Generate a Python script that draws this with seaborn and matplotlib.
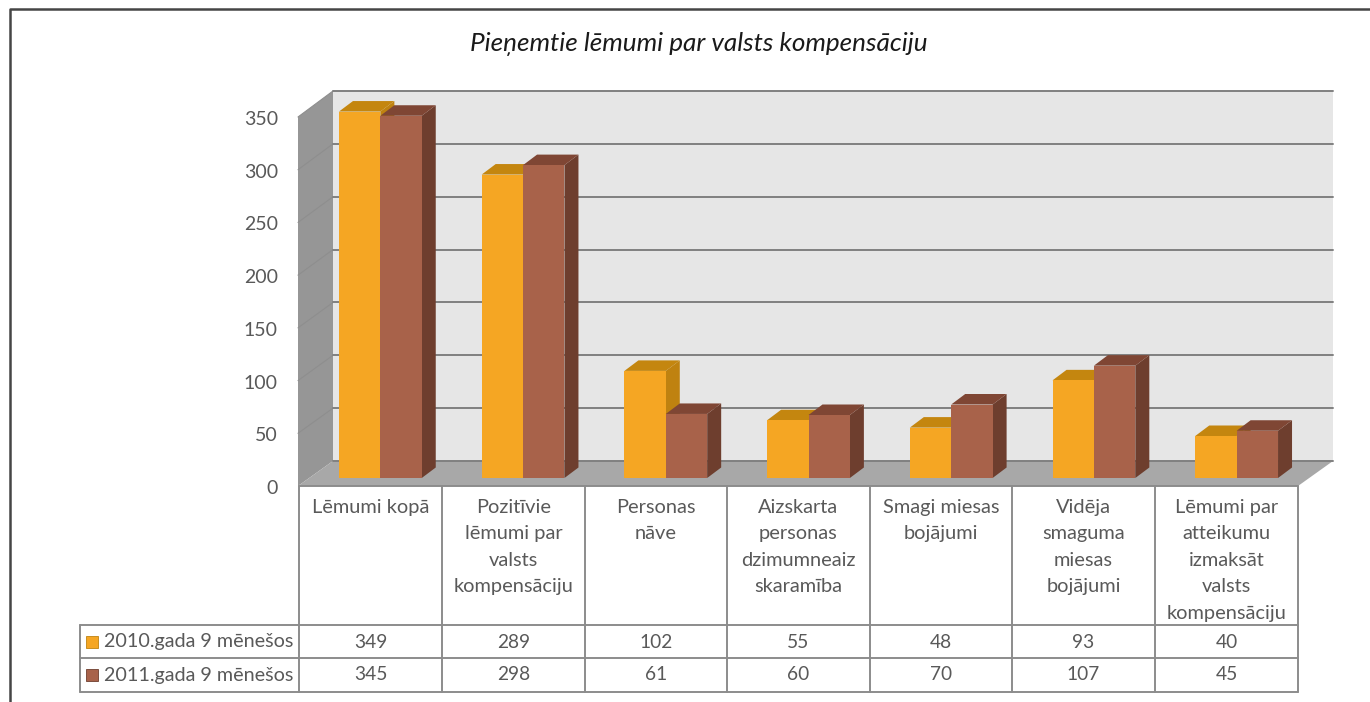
"""Lemumi par valsts kompensaciju - 3D look column chart with data table"""
import matplotlib
matplotlib.use("Agg")
import matplotlib.pyplot as plt
from matplotlib.patches import Polygon, Rectangle
import pandas as pd
import seaborn as sns

title = "Pieņemtie lēmumi par valsts kompensāciju"
categories = [
    "Lēmumi kopā",
    "Pozitīvie\nlēmumi par\nvalsts\nkompensāciju",
    "Personas\nnāve",
    "Aizskarta\npersonas\ndzimumneaiz\nskaramība",
    "Smagi miesas\nbojājumi",
    "Vidēja\nsmaguma\nmiesas\nbojājumi",
    "Lēmumi par\natteikumu\nizmaksāt\nvalsts\nkompensāciju",
]
series_names = ["2010.gada 9 mēnešos", "2011.gada 9 mēnešos"]
values_2010 = [349, 289, 102, 55, 48, 93, 40]
values_2011 = [345, 298, 61, 60, 70, 107, 45]
y_ticks = [0, 50, 100, 150, 200, 250, 300, 350]

W, H = 1370, 702
TXT = "#595959"
LINE = "#8c8c8c"
FRONT = ["#F5A623", "#A8624A"]
TOPS = ["#C4860F", "#7F4634"]
SIDES = ["#BF8210", "#6E3E2E"]

sns.set_theme(style="white")
plt.rcParams["font.family"] = ["Lato", "DejaVu Sans"]


def px_axes(fig, left, top, right, bottom, **kw):
    return fig.add_axes([left / W, 1 - bottom / H, (right - left) / W, (bottom - top) / H], **kw)


fig = plt.figure(figsize=(W / 100, H / 100), dpi=100, facecolor="white")

# pixel canvas for walls, floor, table
bg = px_axes(fig, 0, 0, W, H, zorder=0)
bg.set_xlim(0, W)
bg.set_ylim(H, 0)
bg.axis("off")

# outer picture frame
bg.plot([10, 10, W], [H, 9, 9], color="#454545", lw=1.8)

bg.text(699, 44, title, ha="center", va="center", fontsize=18.8, style="italic", color="#1a1a1a")

bg.add_patch(Polygon([(298, 117), (333, 91), (333, 461), (298, 486)], fc="#969696", ec="none"))
bg.add_patch(Polygon([(298, 486), (333, 461), (1333, 461), (1298, 486)], fc="#a8a8a8", ec="none"))

# back wall with gridlines
wall = px_axes(fig, 333, 91, 1333, 461, zorder=1)
wall.set_facecolor("#e6e6e6")
wall.set_ylim(0, 350)
wall.set_xticks([])
wall.set_yticks(y_ticks)
wall.set_yticklabels([])
wall.tick_params(left=False)
wall.grid(axis="y", color="#808080", lw=1.4)
for gl in wall.get_ygridlines():
    gl.set_clip_on(False)
sns.despine(ax=wall, left=True, bottom=True, right=True, top=True)

# front plane only carries the value axis
front = px_axes(fig, 298, 118, 1298, 487, zorder=1)
front.patch.set_alpha(0)
front.set_ylim(0, 350)
front.set_xticks([])
front.set_yticks(y_ticks)
front.tick_params(axis="y", left=False, labelsize=14, labelcolor=TXT, pad=8.5)
sns.despine(ax=front, left=True, bottom=True, right=True, top=True)

# faint gridlines running over the side wall
for t in y_ticks[1:]:
    frac = t / y_ticks[-1]
    bg.plot([298, 333], [486 - frac * 369, 461 - frac * 370], color="#8e8e8e", lw=0.8)

# bars
df = pd.DataFrame({
    "category": categories * 2,
    "series": [series_names[0]] * 7 + [series_names[1]] * 7,
    "value": values_2010 + values_2011,
})
ax = px_axes(fig, 309, 110.5, 1308, 478, zorder=2)
ax.patch.set_alpha(0)
sns.barplot(data=df, x="category", y="value", hue="series", palette=FRONT, width=0.58,
            gap=0, legend=False, saturation=1, ax=ax)
ax.set_xlim(-0.5, 6.5)
ax.set_ylim(0, 350)
ax.set_xticks([])
ax.set_yticks([])
ax.set_xlabel("")
ax.set_ylabel("")
sns.despine(ax=ax, left=True, bottom=True, right=True, top=True)

# depth of the columns
dx, dy = 14 / 142.7, 10.5 / 1.05
for i, container in enumerate(ax.containers):
    base = 2 * i + 2
    for bar in container:
        x, w, h = bar.get_x(), bar.get_width(), bar.get_height()
        bar.set_zorder(base + 1)
        bar.set_edgecolor("none")
        ax.add_patch(Polygon([(x + w, 0), (x + w + dx, dy), (x + w + dx, h + dy), (x + w, h)],
                             fc=SIDES[i], ec="none", zorder=base, clip_on=False))
        ax.add_patch(Polygon([(x, h), (x + dx, h + dy), (x + w + dx, h + dy), (x + w, h)],
                             fc=TOPS[i], ec="none", zorder=base, clip_on=False))

# data table
col_x = [299, 442, 585, 727, 870, 1012, 1155, 1298]
rows_y = [486, 625, 658, 692]
tab = px_axes(fig, 0, 0, W, H, zorder=3)
tab.set_xlim(0, W)
tab.set_ylim(H, 0)
tab.axis("off")
tab.plot([col_x[0], col_x[-1]], [rows_y[0], rows_y[0]], color=LINE, lw=1.4)
for y in rows_y[1:]:
    tab.plot([80, col_x[-1]], [y, y], color=LINE, lw=1.4)
tab.plot([80, 80], [rows_y[1], rows_y[3]], color=LINE, lw=1.4)
for x in col_x:
    tab.plot([x, x], [rows_y[0], rows_y[3]], color=LINE, lw=1.4)

for i, label in enumerate(categories):
    center = (col_x[i] + col_x[i + 1]) / 2
    tab.text(center, 499, label, ha="center", va="top", fontsize=14.4, color=TXT, linespacing=1.67)
    tab.text(center, 643, str(values_2010[i]), ha="center", va="center", fontsize=13.8, color=TXT)
    tab.text(center, 675, str(values_2011[i]), ha="center", va="center", fontsize=13.8, color=TXT)

for j, name in enumerate(series_names):
    yc = (rows_y[j + 1] + rows_y[j + 2]) / 2
    tab.add_patch(Rectangle((86, yc - 6), 12, 12, fc=FRONT[j], ec=SIDES[j], lw=0.6))
    tab.text(104, yc, name, ha="left", va="center", fontsize=14.2, color=TXT)

fig.savefig("out.png", dpi=100)
plt.close(fig)
